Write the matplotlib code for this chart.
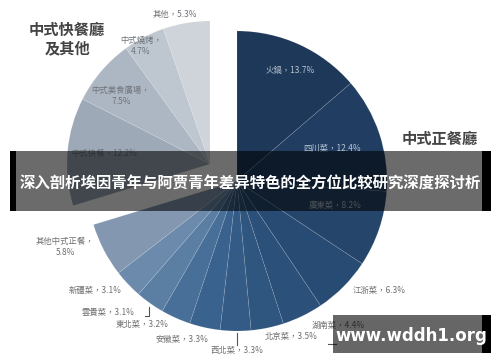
import matplotlib.pyplot as plt
from matplotlib.patches import Rectangle

plt.rcParams['font.family'] = ['Noto Sans CJK TC', 'DejaVu Sans']

# 中式正餐廳
zhengcan = ['火鍋', '四川菜', '廣東菜', '江浙菜', '湖南菜', '北京菜', '西北菜',
            '安徽菜', '東北菜', '雲貴菜', '新疆菜', '其他中式正餐']
zhengcan_pct = [13.7, 12.4, 8.2, 6.3, 4.4, 3.5, 3.3, 3.3, 3.2, 3.1, 3.1, 5.8]
# 中式快餐廳及其他
kuaican = ['中式快餐', '中式美食廣場', '中式燒烤', '其他']
kuaican_pct = [12.2, 7.5, 4.7, 5.3]

zheng_colors = ['#1d3858', '#213e62', '#25456b', '#284b73', '#2b5079', '#2f567f',
                '#335b86', '#3a628e', '#486f98', '#5b7ea3', '#6c8aab', '#8398b0']
kuai_colors = ['#9ea9b8', '#adb7c4', '#bec6d0', '#cfd4db']

H = 362
def Y(y):
    return H - y

fig = plt.figure(figsize=(5, 3.62), dpi=100)
ax = fig.add_axes([0, 0, 1, 1])

values = zhengcan_pct + kuaican_pct
wedges, _ = ax.pie(values, colors=zheng_colors + kuai_colors, startangle=90,
                   counterclock=False, center=(237, Y(181)), radius=150,
                   wedgeprops=dict(linewidth=0.5, edgecolor=(1, 1, 1, 0.15)))
# 快餐組向左上方分離
for w in wedges[len(zhengcan):]:
    w.set_center((210, Y(164)))
    w.set_radius(143)

ax.set_xlim(0, 500)
ax.set_ylim(0, H)
ax.set_aspect('auto')
ax.axis('off')

# 標籤位置 (像素)
zheng_pos = [(290, 71), (332, 148), (335, 205), (379, 290), (338, 325), (291, 337),
             (237, 351), (182, 339), (142, 325), (108, 312), (95, 290), (65, 247)]
kuai_pos = [(104, 153), (121, 96), (141, 46), (175, 14)]
inside = {'火鍋', '四川菜', '廣東菜'}

def label_text(name, pct):
    if len(name) >= 4 and name != '中式快餐':
        return f'{name}，\n{pct}%'
    return f'{name}，{pct}%'

for name, pct, (x, y) in zip(zhengcan, zhengcan_pct, zheng_pos):
    c = '#b9c5d3' if name in inside else '#6f6f6f'
    ax.text(x, Y(y), label_text(name, pct), fontsize=6, color=c,
            ha='center', va='center', linespacing=1.3)
for name, pct, (x, y) in zip(kuaican, kuaican_pct, kuai_pos):
    ax.text(x, Y(y), label_text(name, pct), fontsize=6, color='#6f7378',
            ha='center', va='center', linespacing=1.3)

# 引導線
ax.plot([237, 237], [Y(333), Y(345)], color='#555555', lw=0.8)
ax.plot([145, 149, 149], [Y(316), Y(316), Y(307)], color='#555555', lw=0.8)
ax.plot([328, 336], [Y(344), Y(344)], color='#555555', lw=0.8)

# 分組標題
ax.text(67, Y(39), '中式快餐廳\n及其他', fontsize=11, fontweight='bold',
        color='#444444', ha='center', va='center', linespacing=1.2)
ax.text(440, Y(139), '中式正餐廳', fontsize=11, fontweight='bold',
        color='#444444', ha='center', va='center')

# 橫幅
ax.add_patch(Rectangle((10, Y(211)), 481, 60, facecolor='black', alpha=0.58,
                       lw=0, zorder=5))
ax.add_patch(Rectangle((10, Y(211)), 6, 60, facecolor='black', lw=0, zorder=5))
ax.add_patch(Rectangle((482, Y(211)), 9, 60, facecolor='black', lw=0, zorder=5))
ax.text(250, Y(184), '深入剖析埃因青年与阿贾青年差异特色的全方位比较研究深度探讨析',
        fontsize=11.1, fontweight='bold', color='white', ha='center', va='center',
        family=['Noto Sans CJK SC', 'DejaVu Sans'], zorder=6)

# 水印
ax.add_patch(Rectangle((333, Y(353)), 158, 38, facecolor='black', alpha=0.6,
                       lw=0, zorder=5))
ax.add_patch(Rectangle((482, Y(353)), 9, 38, facecolor='black', lw=0, zorder=5))
ax.text(411, Y(336), 'www.wddh1.org', fontsize=12, fontweight='bold', color='white',
        ha='center', va='center', family='DejaVu Sans', zorder=6)

fig.savefig('out.png', dpi=100)
